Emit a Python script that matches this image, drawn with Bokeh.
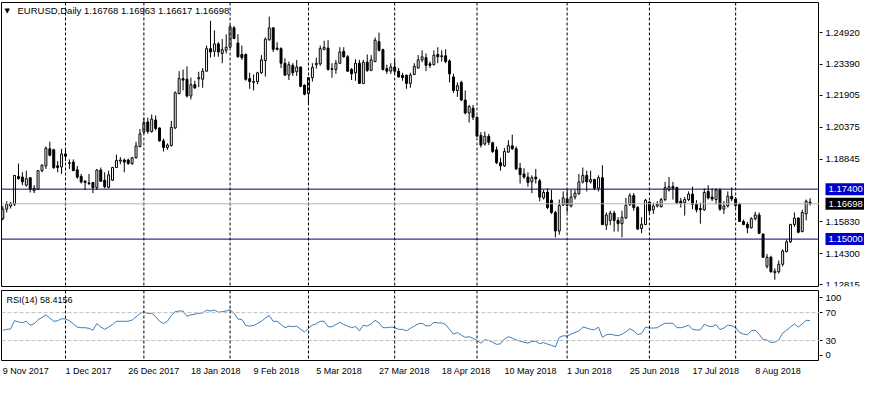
from bokeh.plotting import figure
from bokeh.models import Range1d, FixedTicker, Span, Label, ColumnDataSource, NumeralTickFormatter, LinearAxis
from bokeh.layouts import column, row
from bokeh.embed import file_html
from bokeh.resources import INLINE
from bokeh.core.properties import value

symbol = "EURUSD,Daily"

opens = [
    1.1598, 1.1644, 1.1659, 1.1667, 1.1801, 1.1798, 1.1759, 1.1795, 1.1733, 1.1739,
    1.1829, 1.1852, 1.1934, 1.1929, 1.1852, 1.1847, 1.1909, 1.1864, 1.1870, 1.1833,
    1.1801, 1.1778, 1.1767, 1.1772, 1.1747, 1.1832, 1.1783, 1.1749, 1.1783, 1.1844,
    1.1875, 1.1880, 1.1880, 1.1863, 1.1891, 1.1945, 1.2014, 1.2063, 1.2017, 1.2072,
    1.2034, 1.1972, 1.1940, 1.1949, 1.2034, 1.2199, 1.2271, 1.2268, 1.2188, 1.2242,
    1.2270, 1.2268, 1.2307, 1.2415, 1.2402, 1.2438, 1.2392, 1.2407, 1.2422, 1.2515,
    1.2442, 1.2387, 1.2387, 1.2271, 1.2253, 1.2256, 1.2299, 1.2358, 1.2458, 1.2515,
    1.2418, 1.2415, 1.2345, 1.2288, 1.2335, 1.2304, 1.2327, 1.2240, 1.2199, 1.2276,
    1.2338, 1.2342, 1.2412, 1.2418, 1.2315, 1.2315, 1.2345, 1.2402, 1.2376, 1.2315,
    1.2299, 1.2345, 1.2248, 1.2350, 1.2311, 1.2353, 1.2449, 1.2410, 1.2319, 1.2307,
    1.2327, 1.2307, 1.2287, 1.2287, 1.2248, 1.2291, 1.2322, 1.2361, 1.2372, 1.2342,
    1.2338, 1.2387, 1.2376, 1.2381, 1.2356, 1.2279, 1.2214, 1.2253, 1.2168, 1.2106,
    1.2129, 1.2086, 1.1998, 1.1957, 1.1994, 1.1963, 1.1929, 1.1867, 1.1852, 1.1918,
    1.1948, 1.1934, 1.1841, 1.1813, 1.1798, 1.1775, 1.1798, 1.1780, 1.1698, 1.1726,
    1.1687, 1.1628, 1.1539, 1.1664, 1.1693, 1.1659, 1.1702, 1.1718, 1.1775, 1.1806,
    1.1775, 1.1786, 1.1744, 1.1795, 1.1567, 1.1590, 1.1625, 1.1590, 1.1574, 1.1601,
    1.1667, 1.1709, 1.1652, 1.1551, 1.1570, 1.1678, 1.1641, 1.1659, 1.1656, 1.1690,
    1.1736, 1.1752, 1.1747, 1.1682, 1.1675, 1.1690, 1.1716, 1.1667, 1.1647, 1.1641,
    1.1729, 1.1702, 1.1690, 1.1736, 1.1644, 1.1659, 1.1706, 1.1693, 1.1667, 1.1585,
    1.1571, 1.1554, 1.1598, 1.1616, 1.1524, 1.1369, 1.1413, 1.1339, 1.1343, 1.1379,
    1.1440, 1.1487, 1.1570, 1.1601, 1.1536, 1.1621, 1.16768,
]

highs = [
    1.1659, 1.1682, 1.1678, 1.1808, 1.1863, 1.1821, 1.1829, 1.1797, 1.1759, 1.1832,
    1.1860, 1.1945, 1.1968, 1.1934, 1.1875, 1.1934, 1.1937, 1.1883, 1.1883, 1.1852,
    1.1813, 1.1783, 1.1813, 1.1775, 1.1837, 1.1844, 1.1821, 1.1829, 1.1847, 1.1906,
    1.1894, 1.1887, 1.1887, 1.1894, 1.1968, 1.2029, 1.2083, 1.2083, 1.2099, 1.2094,
    1.2037, 1.1983, 1.1960, 1.2068, 1.2210, 1.2307, 1.2315, 1.2330, 1.2276, 1.2261,
    1.2304, 1.2322, 1.2430, 1.2549, 1.2503, 1.2446, 1.2461, 1.2484, 1.2530, 1.2523,
    1.2484, 1.2430, 1.2392, 1.2299, 1.2291, 1.2304, 1.2384, 1.2469, 1.2569, 1.2517,
    1.2446, 1.2422, 1.2369, 1.2353, 1.2345, 1.2361, 1.2328, 1.2242, 1.2279, 1.2345,
    1.2372, 1.2430, 1.2453, 1.2456, 1.2345, 1.2361, 1.2422, 1.2422, 1.2384, 1.2322,
    1.2364, 1.2361, 1.2361, 1.2387, 1.2384, 1.2469, 1.2492, 1.2415, 1.2338, 1.2345,
    1.2361, 1.2322, 1.2299, 1.2291, 1.2299, 1.2345, 1.2384, 1.2407, 1.2392, 1.2353,
    1.2407, 1.2422, 1.2407, 1.2412, 1.2364, 1.2294, 1.2253, 1.2261, 1.2214, 1.2145,
    1.2145, 1.2088, 1.2014, 1.2017, 1.2006, 1.1968, 1.1945, 1.1891, 1.1937, 1.1975,
    1.2002, 1.1945, 1.1867, 1.1840, 1.1821, 1.1806, 1.1837, 1.1790, 1.1736, 1.1744,
    1.1736, 1.1636, 1.1690, 1.1729, 1.1736, 1.1736, 1.1736, 1.1813, 1.1844, 1.1829,
    1.1829, 1.1790, 1.1806, 1.1855, 1.1628, 1.1636, 1.1636, 1.1605, 1.1636, 1.1698,
    1.1721, 1.1721, 1.1659, 1.1605, 1.1693, 1.1682, 1.1675, 1.1682, 1.1698, 1.1775,
    1.1798, 1.1775, 1.1752, 1.1698, 1.1702, 1.1729, 1.1752, 1.1687, 1.1675, 1.1744,
    1.1759, 1.1744, 1.1744, 1.1744, 1.1682, 1.1729, 1.1749, 1.1702, 1.1675, 1.1594,
    1.1582, 1.1605, 1.1631, 1.1628, 1.1528, 1.1428, 1.1420, 1.1359, 1.1397, 1.1451,
    1.1497, 1.1574, 1.1628, 1.1605, 1.1641, 1.1690, 1.16963,
]

lows = [
    1.1590, 1.1628, 1.1647, 1.1659, 1.1786, 1.1759, 1.1752, 1.1724, 1.1721, 1.1736,
    1.1821, 1.1837, 1.1898, 1.1837, 1.1821, 1.1813, 1.1875, 1.1837, 1.1827, 1.1790,
    1.1767, 1.1736, 1.1759, 1.1721, 1.1736, 1.1775, 1.1744, 1.1744, 1.1780, 1.1841,
    1.1860, 1.1821, 1.1857, 1.1857, 1.1887, 1.1940, 1.2006, 1.2006, 1.2011, 1.2022,
    1.1968, 1.1921, 1.1929, 1.1945, 1.2029, 1.2196, 1.2214, 1.2180, 1.2171, 1.2221,
    1.2230, 1.2227, 1.2304, 1.2372, 1.2376, 1.2376, 1.2345, 1.2392, 1.2418, 1.2461,
    1.2372, 1.2361, 1.2261, 1.2222, 1.2214, 1.2245, 1.2294, 1.2281, 1.2453, 1.2399,
    1.2407, 1.2322, 1.2284, 1.2264, 1.2284, 1.2284, 1.2230, 1.2191, 1.2153, 1.2257,
    1.2319, 1.2333, 1.2407, 1.2310, 1.2276, 1.2294, 1.2341, 1.2372, 1.2304, 1.2264,
    1.2261, 1.2245, 1.2245, 1.2304, 1.2307, 1.2350, 1.2402, 1.2310, 1.2294, 1.2294,
    1.2291, 1.2276, 1.2261, 1.2222, 1.2227, 1.2288, 1.2319, 1.2350, 1.2307, 1.2322,
    1.2335, 1.2345, 1.2353, 1.2345, 1.2253, 1.2203, 1.2183, 1.2165, 1.2099, 1.2060,
    1.2072, 1.1991, 1.1940, 1.1949, 1.1952, 1.1914, 1.1860, 1.1829, 1.1847, 1.1914,
    1.1929, 1.1832, 1.1767, 1.1790, 1.1752, 1.1721, 1.1767, 1.1682, 1.1690, 1.1644,
    1.1621, 1.1508, 1.1521, 1.1659, 1.1628, 1.1652, 1.1690, 1.1713, 1.1767, 1.1729,
    1.1767, 1.1736, 1.1729, 1.1567, 1.1544, 1.1567, 1.1536, 1.1536, 1.1508, 1.1598,
    1.1659, 1.1636, 1.1544, 1.1528, 1.1567, 1.1621, 1.1621, 1.1652, 1.1652, 1.1682,
    1.1729, 1.1690, 1.1667, 1.1652, 1.1613, 1.1682, 1.1644, 1.1628, 1.1574, 1.1636,
    1.1690, 1.1682, 1.1667, 1.1636, 1.1621, 1.1652, 1.1682, 1.1652, 1.1582, 1.1567,
    1.1528, 1.1551, 1.1590, 1.1524, 1.1410, 1.1359, 1.1339, 1.1305, 1.1335, 1.1369,
    1.1436, 1.1482, 1.1559, 1.1528, 1.1533, 1.1590, 1.16617,
]

closes = [
    1.1644, 1.1667, 1.1672, 1.1806, 1.1790, 1.1775, 1.1790, 1.1739, 1.1744, 1.1829,
    1.1855, 1.1937, 1.1903, 1.1844, 1.1844, 1.1909, 1.1898, 1.1867, 1.1829, 1.1798,
    1.1775, 1.1772, 1.1770, 1.1747, 1.1832, 1.1778, 1.1752, 1.1809, 1.1844, 1.1878,
    1.1880, 1.1870, 1.1863, 1.1891, 1.1948, 1.2006, 1.2060, 1.2017, 1.2076, 1.2032,
    1.1972, 1.1940, 1.1952, 1.2037, 1.2203, 1.2271, 1.2264, 1.2188, 1.2242, 1.2227,
    1.2276, 1.2307, 1.2415, 1.2399, 1.2438, 1.2399, 1.2410, 1.2422, 1.2520, 1.2464,
    1.2376, 1.2372, 1.2268, 1.2257, 1.2257, 1.2299, 1.2361, 1.2461, 1.2515, 1.2412,
    1.2412, 1.2345, 1.2288, 1.2338, 1.2299, 1.2327, 1.2234, 1.2196, 1.2276, 1.2325,
    1.2345, 1.2415, 1.2421, 1.2315, 1.2319, 1.2345, 1.2399, 1.2376, 1.2307, 1.2294,
    1.2345, 1.2248, 1.2350, 1.2310, 1.2361, 1.2456, 1.2407, 1.2315, 1.2307, 1.2327,
    1.2307, 1.2279, 1.2276, 1.2248, 1.2288, 1.2330, 1.2361, 1.2376, 1.2335, 1.2335,
    1.2384, 1.2376, 1.2381, 1.2353, 1.2294, 1.2214, 1.2237, 1.2168, 1.2106, 1.2137,
    1.2086, 1.1995, 1.1952, 1.1994, 1.1965, 1.1921, 1.1867, 1.1852, 1.1921, 1.1949,
    1.1934, 1.1837, 1.1810, 1.1798, 1.1772, 1.1795, 1.1790, 1.1702, 1.1724, 1.1652,
    1.1628, 1.1539, 1.1662, 1.1698, 1.1662, 1.1702, 1.1721, 1.1775, 1.1806, 1.1775,
    1.1786, 1.1744, 1.1795, 1.1570, 1.1616, 1.1625, 1.1590, 1.1574, 1.1605, 1.1662,
    1.1709, 1.1652, 1.1548, 1.1571, 1.1687, 1.1636, 1.1659, 1.1667, 1.1690, 1.1747,
    1.1752, 1.1744, 1.1675, 1.1672, 1.1690, 1.1716, 1.1667, 1.1641, 1.1641, 1.1724,
    1.1698, 1.1693, 1.1736, 1.1644, 1.1659, 1.1706, 1.1693, 1.1662, 1.1585, 1.1570,
    1.1554, 1.1598, 1.1616, 1.1528, 1.1413, 1.1413, 1.1343, 1.1346, 1.1379, 1.1443,
    1.1487, 1.1570, 1.1601, 1.1533, 1.1628, 1.1682, 1.16698,
]

rsi_period = 14
rsi = [
    44.7, 46.1, 46.6, 58.5, 56.7, 55.7, 57.6, 52.1, 53.9, 59.9,
    63.1, 66.8, 62.2, 57.6, 58.5, 61.3, 60.8, 58.5, 53.9, 49.3,
    48.4, 48.4, 47.5, 44.7, 54.4, 49.3, 46.1, 49.3, 53.0, 57.6,
    57.6, 57.6, 57.6, 59.4, 64.0, 68.6, 71.4, 68.6, 69.1, 64.5,
    57.6, 54.4, 57.6, 65.9, 71.4, 72.3, 72.3, 64.9, 66.8, 67.7,
    69.1, 69.5, 73.5, 72.3, 73.7, 70.5, 71.4, 72.3, 74.1, 69.1,
    60.8, 60.3, 51.6, 50.7, 51.6, 54.4, 57.6, 62.2, 65.9, 57.6,
    57.6, 53.0, 48.4, 50.7, 49.8, 50.7, 46.1, 42.4, 47.5, 52.1,
    53.9, 57.6, 57.6, 49.8, 49.8, 53.0, 56.2, 53.0, 50.7, 48.4,
    50.2, 43.8, 52.1, 50.7, 53.9, 59.0, 55.3, 48.4, 48.4, 49.3,
    48.4, 46.1, 46.1, 43.8, 47.5, 50.7, 53.9, 54.8, 51.1, 51.1,
    56.2, 55.3, 55.3, 53.0, 46.1, 39.2, 41.5, 37.8, 34.6, 35.5,
    33.2, 30.0, 26.3, 31.4, 30.0, 27.7, 24.5, 25.4, 32.3, 35.5,
    33.7, 30.9, 29.1, 27.7, 26.3, 28.6, 29.1, 25.4, 27.2, 24.9,
    23.1, 20.8, 34.6, 36.9, 36.4, 39.2, 41.5, 43.8, 49.3, 47.9,
    46.1, 45.6, 49.3, 34.6, 38.3, 39.2, 37.8, 36.9, 39.2, 42.4,
    47.0, 43.8, 38.7, 40.1, 49.3, 47.9, 47.9, 48.4, 52.1, 54.8,
    54.8, 54.8, 48.4, 48.4, 49.8, 52.1, 46.1, 45.2, 45.2, 53.4,
    50.7, 49.8, 53.0, 45.6, 47.9, 52.1, 51.1, 48.4, 41.5, 39.2,
    38.3, 43.8, 44.7, 39.2, 31.4, 30.9, 27.2, 27.7, 30.9, 40.6,
    44.7, 49.3, 53.9, 49.3, 53.9, 59.0, 58.4156,
]

# bar indices of the month separators (first bar of each month)
month_sep_idx = [16, 36, 58, 78, 100, 121, 144, 165, 187]
# time scale labels (every 16 bars)
date_label_idx = [0, 16, 32, 48, 64, 80, 96, 112, 128, 144, 160, 176, 192]
date_labels = ["9 Nov 2017", "1 Dec 2017", "26 Dec 2017", "18 Jan 2018", "9 Feb 2018",
               "5 Mar 2018", "27 Mar 2018", "18 Apr 2018", "10 May 2018", "1 Jun 2018",
               "25 Jun 2018", "17 Jul 2018", "8 Aug 2018"]
price_ticks = [1.12815, 1.14300, 1.15830, 1.18845, 1.20375, 1.21905, 1.23390, 1.24920]
level_lines = [1.17400, 1.15000]
rsi_levels = [30, 70]
rsi_scale_labels = {8.6: "0", 30: "30", 70: "70", 91.5: "100"}

FONT = "Liberation Sans"
CHART_W = 819      # chart canvas (1px left border + frame)
SCALE_W = 45       # price scale column
LINE_BLUE = "#000070"
BOX_BLUE = "#0000CD"

n = len(closes)
idx = list(range(n))
bull = [c > o for o, c in zip(opens, closes)]
src = ColumnDataSource(dict(
    x=idx, high=highs, low=lows,
    top=[max(o, c) for o, c in zip(opens, closes)],
    bottom=[min(o, c) for o, c in zip(opens, closes)],
    fill=["white" if b else "black" for b in bull],
))

x_range = Range1d(-0.33, 208.4)
price_range = Range1d(1.12723, 1.26368)
rsi_range = Range1d(0, 101.7)


def base_fig(width, height, xr, yr, left, top, bottom, right=0):
    f = figure(width=width, height=height, x_range=xr, y_range=yr,
               output_backend="svg", toolbar_location=None, x_axis_location=None,
               y_axis_location=None, min_border_left=left, min_border_right=right,
               min_border_top=top, min_border_bottom=bottom,
               background_fill_color="white", border_fill_color="white")
    f.grid.visible = False
    return f


def scale_axis(ticker, **kw):
    a = LinearAxis(ticker=ticker, fixed_location=0, **kw)
    a.major_tick_out = 3
    a.major_tick_in = 0
    a.minor_tick_line_color = None
    a.major_label_standoff = 3
    a.axis_line_color = None
    a.major_tick_line_color = "black"
    a.major_label_text_font = FONT
    a.major_label_text_font_size = "9.5px"
    a.major_label_text_color = "black"
    return a


# ---- main price chart ----
p = base_fig(CHART_W, 290, x_range, price_range, left=1, top=2, bottom=4)
p.outline_line_color = "black"
p.outline_line_width = 1
p.outline_line_alpha = 1

for s in month_sep_idx:
    p.add_layout(Span(location=s, dimension="height", line_color="black",
                      line_dash="3 2", line_width=1))
for lv in level_lines:
    p.add_layout(Span(location=lv, dimension="width", line_color=LINE_BLUE, line_width=1))
p.add_layout(Span(location=closes[-1], dimension="width", line_color="#B4B4B4", line_width=1))

p.segment(x0="x", y0="low", x1="x", y1="high", source=src, line_color="black", line_width=1)
p.vbar(x="x", top="top", bottom="bottom", width=0.5, source=src, fill_color="fill",
       line_color="black", line_width=1)

p.add_layout(Label(x=x_range.start, y=price_range.end, x_offset=3, y_offset=-8,
                   text="\u25bc", text_font="DejaVu Sans", text_font_size="7px",
                   text_baseline="middle", text_color="black"))
title_text = f"{symbol}  {opens[-1]:.5f} {highs[-1]:.5f} {lows[-1]:.5f} {closes[-1]:.5f}"
p.add_layout(Label(x=x_range.start, y=price_range.end, x_offset=16, y_offset=-8,
                   text=title_text, text_font=FONT, text_font_size="9.5px",
                   text_baseline="middle", text_color="black"))

# ---- price scale ----
ps = base_fig(SCALE_W, 290, Range1d(0, 1), price_range, left=0, top=2, bottom=4)
ps.outline_line_color = None
ps.add_layout(scale_axis(FixedTicker(ticks=price_ticks),
                         formatter=NumeralTickFormatter(format="0.00000")), "right")
for lv in level_lines:
    ps.add_layout(Label(x=0, y=lv, x_offset=6, text=f"{lv:.5f}",
                        text_font=FONT, text_font_size="9.5px", text_baseline="middle",
                        text_color="white", background_fill_color=BOX_BLUE, padding=3))
ps.add_layout(Label(x=0, y=closes[-1], x_offset=6, text=f"{closes[-1]:.5f}",
                    text_font=FONT, text_font_size="9.5px", text_baseline="middle",
                    text_color="white", background_fill_color="black", padding=3))

# ---- RSI panel ----
p2 = base_fig(CHART_W, 71, x_range, rsi_range, left=1, top=0, bottom=0)
p2.outline_line_color = "black"
p2.outline_line_width = 1
p2.outline_line_alpha = 1
for lv in rsi_levels:
    p2.add_layout(Span(location=lv, dimension="width", line_color="#C0C0C0",
                       line_dash="4 2", line_width=1))
for s in month_sep_idx:
    p2.add_layout(Span(location=s, dimension="height", line_color="black",
                       line_dash="3 2", line_width=1))
p2.line(idx, rsi, line_color="#3C7DBA", line_width=1)
p2.add_layout(Label(x=x_range.start, y=rsi_range.end, x_offset=5, y_offset=-9,
                    text=f"RSI({rsi_period}) {rsi[-1]:.4f}", text_font=FONT,
                    text_font_size="9px", text_baseline="middle", text_color="black"))

ps2 = base_fig(SCALE_W, 71, Range1d(0, 1), rsi_range, left=0, top=0, bottom=0)
ps2.outline_line_color = None
ax2 = scale_axis(FixedTicker(ticks=list(rsi_scale_labels.keys())))
ax2.major_label_overrides = rsi_scale_labels
ps2.add_layout(ax2, "right")

# ---- time scale ----
p3 = base_fig(CHART_W + SCALE_W, 18, x_range, Range1d(0, 1), left=1, top=0, bottom=0,
              right=SCALE_W)
p3.outline_line_color = None
p3.text(x=date_label_idx, y=[0.5] * len(date_label_idx), text=date_labels,
        text_font=value(FONT), text_font_size="9px", text_align="left",
        text_baseline="middle", text_color="black")

layout = column(row(p, ps), row(p2, ps2), p3)
open("out.html", "w").write(file_html(layout, INLINE))
